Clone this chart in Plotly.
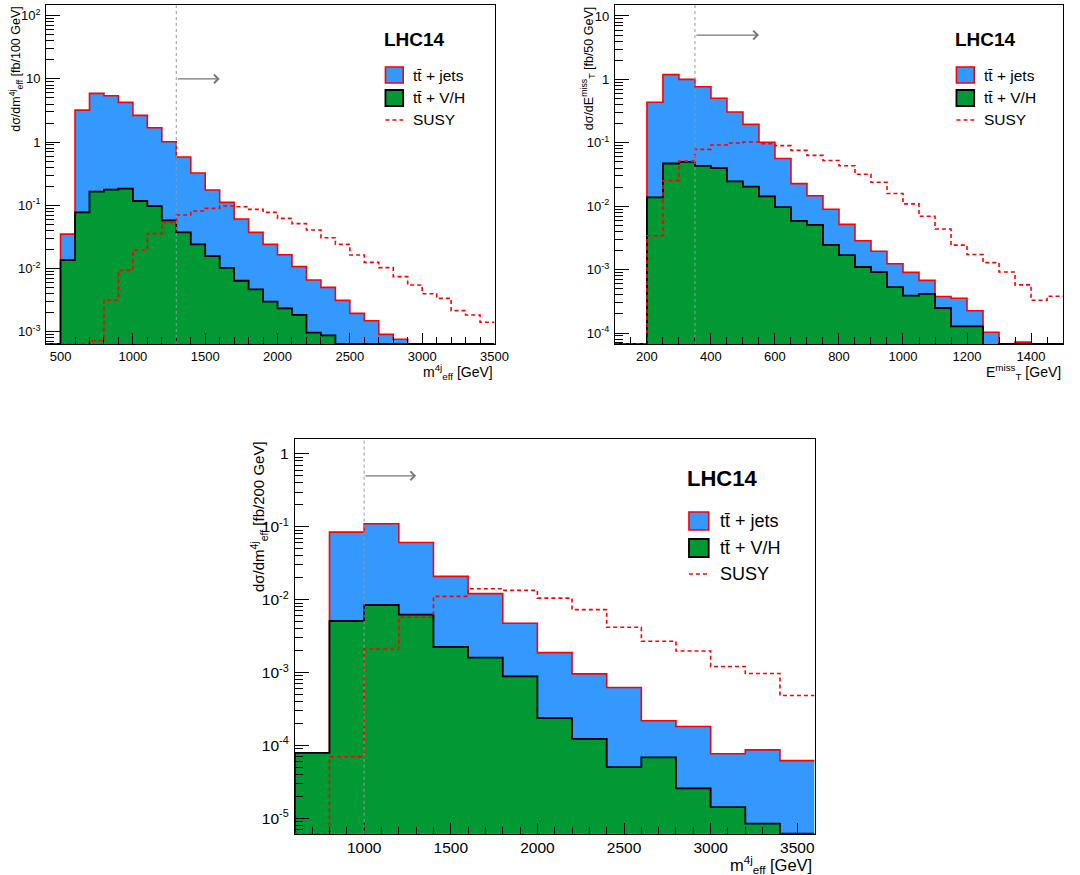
import math
import plotly.graph_objects as go

# ---------------- DATA ----------------
# Panel 1: m_eff^4j, 100 GeV bins, 400 -> 3500 GeV (values = visible stack heights, fb/100 GeV)
p1_edges = list(range(400, 3600, 100))
p1_ttjets = [0, 0.035, 3.2, 5.9, 5.4, 4.25, 2.65, 1.69, 1.01, 0.58, 0.324, 0.175, 0.111,
             0.0606, 0.0373, 0.0241, 0.0165, 0.0107, 0.00657, 0.00503, 0.00313, 0.00195,
             0.00149, 0.000907, 0.000757, 0, 0, 0, 0, 0, 0]
p1_ttvh = [0, 0.0136, 0.0773, 0.164, 0.177, 0.183, 0.117, 0.0973, 0.0578, 0.0373, 0.0241,
           0.0157, 0.0102, 0.0064, 0.00468, 0.00299, 0.00234, 0.00184, 0.000964, 0.000875,
           0, 0, 0, 0, 0, 0, 0, 0, 0, 0, 0]
p1_susy = [0, 0, 0, 0.00072, 0.00317, 0.00933, 0.0196, 0.0356, 0.0537, 0.0702, 0.0811,
           0.0893, 0.0973, 0.095, 0.0863, 0.0773, 0.062, 0.0512, 0.0406, 0.0307, 0.0241,
           0.0163, 0.0125, 0.0103, 0.00742, 0.00547, 0.00399, 0.00337, 0.00215, 0.00184,
           0.00141]
p1_cut = 1300

# Panel 2: E_T^miss, 50 GeV bins, 100 -> 1500 GeV
p2_edges = list(range(100, 1550, 50))
p2_ttjets = [0, 0, 0.436, 1.19, 1.0, 0.764, 0.505, 0.306, 0.195, 0.102, 0.0567, 0.0227,
             0.0146, 0.00897, 0.00518, 0.00285, 0.00195, 0.00124, 0.000905, 0.000676,
             0.000376, 0.000353, 0.000225, 0.000103, 0, 7.2e-5, 0, 0]
p2_ttvh = [0, 0, 0.0138, 0.0472, 0.0502, 0.0434, 0.0398, 0.0247, 0.0204, 0.0143, 0.00967,
           0.00586, 0.00506, 0.00246, 0.00169, 0.0011, 0.000916, 0.000528, 0.00039,
           0.000414, 0.000248, 0.000127, 0.000127, 6.5e-5, 0, 0, 0, 0]
p2_susy = [0, 0, 0.00342, 0.0253, 0.0515, 0.0789, 0.0925, 0.0995, 0.103, 0.097, 0.0902,
           0.076, 0.0633, 0.0527, 0.0434, 0.032, 0.0239, 0.0159, 0.0109, 0.00695, 0.00437,
           0.00243, 0.00173, 0.00129, 0.000916, 0.000575, 0.000328, 0.00038]
p2_cut = 350

# Panel 3: m_eff^4j, 200 GeV bins, 600 -> 3600 GeV
p3_edges = list(range(600, 3800, 200))
p3_ttjets = [7.9e-5, 0.0845, 0.11, 0.061, 0.0209, 0.0121, 0.00474, 0.00188, 0.00096,
             0.000623, 0.000218, 0.000182, 7.7e-5, 8.7e-5, 6.2e-5]
p3_ttvh = [7.9e-5, 0.0051, 0.00845, 0.00623, 0.00225, 0.0016, 0.00089, 0.000237, 0.000123,
           5.05e-5, 6.85e-5, 2.58e-5, 1.43e-5, 8.5e-6, 0]
p3_susy = [0, 7.0e-5, 0.00211, 0.00573, 0.0111, 0.01415, 0.0134, 0.0105, 0.0073, 0.00418,
           0.00269, 0.00198, 0.00121, 0.00097, 0.000484]
p3_cut = 1000

legend_labels = ["t\u0074\u0304 + jets", "t\u0074\u0304 + V/H", "SUSY"]

# ---------------- STYLE ----------------
W, H = 1080, 875
FONT = "Liberation Sans, Arial, Helvetica, sans-serif"
BLUE = "#3399ff"
GREEN = "#009933"
RED = "#ff0000"


def px(x):
    return x / W


def py(y):
    return 1 - y / H


def step_xy(edges, vals, floor):
    xs = [edges[0]]
    ys = [floor]
    for i, v in enumerate(vals):
        xs.append(edges[i])
        ys.append(v if v > 0 else floor)
    xs.append(edges[-1])
    ys.append(ys[-1])
    return xs, ys


panels = [
    dict(edges=p1_edges, tt=p1_ttjets, vh=p1_ttvh, su=p1_susy, cut=p1_cut, arrow_to=1600,
         arrow_y=10, xr=[400, 3500], yr=[-3.195, 2.174], dom_x=[46.7, 501], dom_y=[4.7, 344],
         decades=range(-3, 3), xmaj=list(range(500, 3501, 500)), xmin=list(range(400, 3501, 100)),
         tfs=13),
    dict(edges=p2_edges, tt=p2_ttjets, vh=p2_ttvh, su=p2_susy, cut=p2_cut, arrow_to=550,
         arrow_y=5, xr=[100, 1500], yr=[-4.173, 1.178], dom_x=[623, 1077], dom_y=[4.7, 344],
         decades=range(-4, 2), xmaj=list(range(200, 1401, 200)), xmin=list(range(100, 1501, 50)),
         tfs=13),
    dict(edges=p3_edges, tt=p3_ttjets, vh=p3_ttvh, su=p3_susy, cut=p3_cut, arrow_to=1300,
         arrow_y=0.5, xr=[600, 3600], yr=[-5.21, 0.2], dom_x=[298.7, 825.3], dom_y=[439.3, 833.7],
         decades=range(-5, 1), xmaj=list(range(1000, 3501, 500)), xmin=list(range(600, 3601, 100)),
         tfs=15.5),
]


def dec_label(d):
    if d == 0:
        return "1"
    if d == 1:
        return "10"
    return "10<sup>%d</sup>" % d


fig = go.Figure()
shapes = []
annotations = []

for i, p in enumerate(panels, start=1):
    xa = "x" if i == 1 else "x%d" % i
    ya = "y" if i == 1 else "y%d" % i
    floor = 10 ** p["yr"][0]
    for vals, fillc, linec, dash, fill in [
        (p["tt"], BLUE, RED, "solid", "tozeroy"),
        (p["vh"], GREEN, "black", "solid", "tozeroy"),
        (p["su"], None, RED, "4px,3px", "none"),
    ]:
        xs, ys = step_xy(p["edges"], vals, floor)
        fig.add_trace(go.Scatter(
            x=xs, y=ys, mode="lines", line=dict(shape="hv", color=linec,
                                                width=1.6 if linec != "black" else 1.8, dash=dash),
            fill=fill, fillcolor=fillc, xaxis=xa, yaxis=ya, showlegend=False,
            hoverinfo="skip"))

    xkey = "xaxis" if i == 1 else "xaxis%d" % i
    ykey = "yaxis" if i == 1 else "yaxis%d" % i
    ytv = [10 ** d for d in p["decades"]]
    ymin_t = [k * 10 ** d for d in range(int(p["yr"][0]) - 1, int(p["yr"][1]) + 1)
              for k in range(2, 10)
              if p["yr"][0] < math.log10(k * 10 ** d) < p["yr"][1]]
    fig.update_layout({
        xkey: dict(domain=[px(p["dom_x"][0]), px(p["dom_x"][1])], range=p["xr"], anchor=ya,
                   showgrid=False, zeroline=False, showline=True, linecolor="black",
                   linewidth=1, mirror=True, ticks="inside", ticklen=11, tickcolor="black",
                   tickwidth=1, tickmode="array", tickvals=p["xmaj"],
                   ticktext=[str(v) for v in p["xmaj"]],
                   tickfont=dict(family=FONT, size=p["tfs"], color="black"),
                   minor=dict(tickvals=[v for v in p["xmin"] if v not in p["xmaj"]],
                              ticks="inside", ticklen=7, tickcolor="black", tickwidth=1)),
        ykey: dict(domain=[py(p["dom_y"][1]), py(p["dom_y"][0])], type="log", range=p["yr"],
                   anchor=xa, showgrid=False, zeroline=False, showline=True,
                   linecolor="black", linewidth=1, mirror=True, ticks="inside", ticklen=14,
                   tickcolor="black", tickwidth=1, tickmode="array", tickvals=ytv,
                   ticktext=[dec_label(d) for d in p["decades"]],
                   ticklabelstandoff=2,
                   tickfont=dict(family=FONT, size=p["tfs"], color="black"),
                   minor=dict(tickvals=ymin_t, ticks="inside", ticklen=8, tickcolor="black",
                              tickwidth=1)),
    })
    # cut line and arrow
    shapes.append(dict(type="line", xref=xa, yref="%s domain" % ya, x0=p["cut"], x1=p["cut"],
                       y0=0, y1=1, line=dict(color="#999999", width=1, dash="3px,3px")))
    annotations.append(dict(xref=xa, yref=ya, axref=xa, ayref=ya, x=p["arrow_to"],
                            y=math.log10(p["arrow_y"]), ax=p["cut"], ay=math.log10(p["arrow_y"]),
                            text="", showarrow=True, arrowhead=4, arrowsize=1.3,
                            arrowwidth=1.3, arrowcolor="#777777"))

# ---------------- TEXT / LEGENDS ----------------
leg_specs = [
    dict(lhc=(420, 40, 19), sw_x=390.5, sw_w=18, rows=(75, 98, 120), sw_h=16, tx=416.5, fs=15.5),
    dict(lhc=(998, 40, 19), sw_x=969, sw_w=18, rows=(75, 98, 120), sw_h=16, tx=995, fs=15.5),
    dict(lhc=(731, 479, 22), sw_x=698, sw_w=20, rows=(521, 548, 574), sw_h=18, tx=727, fs=18),
]
for L in leg_specs:
    cx, cy, fsz = L["lhc"]
    annotations.append(dict(xref="paper", yref="paper", x=px(cx), y=py(cy), text="<b>LHC14</b>",
                            showarrow=False, xanchor="center", yanchor="middle",
                            font=dict(family=FONT, size=fsz, color="black")))
    r1, r2, r3 = L["rows"]
    hh = L["sw_h"] / 2
    shapes.append(dict(type="rect", xref="paper", yref="paper", x0=px(L["sw_x"]),
                       x1=px(L["sw_x"] + L["sw_w"]), y0=py(r1 + hh), y1=py(r1 - hh),
                       fillcolor=BLUE, line=dict(color=RED, width=1.6)))
    shapes.append(dict(type="rect", xref="paper", yref="paper", x0=px(L["sw_x"]),
                       x1=px(L["sw_x"] + L["sw_w"]), y0=py(r2 + hh), y1=py(r2 - hh),
                       fillcolor=GREEN, line=dict(color="black", width=1.8)))
    shapes.append(dict(type="line", xref="paper", yref="paper", x0=px(L["sw_x"]),
                       x1=px(L["sw_x"] + L["sw_w"]), y0=py(r3), y1=py(r3),
                       line=dict(color=RED, width=1.6, dash="4px,3px")))
    for lab, ry in zip(legend_labels, (r1, r2, r3)):
        annotations.append(dict(xref="paper", yref="paper", x=px(L["tx"]), y=py(ry), text=lab,
                                showarrow=False, xanchor="left", yanchor="middle",
                                font=dict(family=FONT, size=L["fs"], color="black")))

# axis titles
ytitles = [
    ("d\u03c3/dm<sup>4j</sup><sub>eff</sub> [fb/100 GeV]", 16, 4, 12.5),
    ("d\u03c3/dE<sup>miss</sup><sub>T</sub> [fb/50 GeV]", 596, 4, 12.5),
    ("d\u03c3/dm<sup>4j</sup><sub>eff</sub> [fb/200 GeV]", 262, 439, 15),
]
for t, x, y, fs in ytitles:
    annotations.append(dict(xref="paper", yref="paper", x=px(x), y=py(y), text=t,
                            textangle=-90, showarrow=False, xanchor="center", yanchor="top",
                            font=dict(family=FONT, size=fs, color="black")))
xtitles = [
    ("m<sup>4j</sup><sub>eff</sub> [GeV]", 501, 372, 14),
    ("E<sup>miss</sup><sub>T</sub> [GeV]", 1077, 372, 14),
    ("m<sup>4j</sup><sub>eff</sub> [GeV]", 825, 865, 16.5),
]
for t, x, y, fs in xtitles:
    annotations.append(dict(xref="paper", yref="paper", x=px(x), y=py(y), text=t,
                            showarrow=False, xanchor="right", yanchor="middle",
                            font=dict(family=FONT, size=fs, color="black")))

fig.update_layout(width=W, height=H, margin=dict(l=0, r=0, t=0, b=0),
                  paper_bgcolor="white", plot_bgcolor="white", showlegend=False,
                  shapes=shapes, annotations=annotations,
                  font=dict(family=FONT, color="black"))

fig.write_html("out.html")
